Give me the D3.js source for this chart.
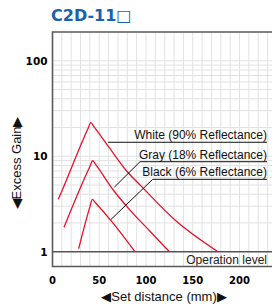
<!DOCTYPE html>
<html>
	<head>
		<meta charset="utf-8">
		<script src="https://cdn.jsdelivr.net/npm/d3@7/dist/d3.min.js"></script>
		<style>
			body { margin: 0; background: #fff; }
			svg text { font-family: 'Liberation Sans', Arial, sans-serif; }
		</style>
	</head>
	<body>
		<div id="chart"></div>
		<script>
			// data (distance in mm, excess gain)
			var whiteDist = [6.2, 10.5, 38, 41, 44.5, 61.5, 80, 95.4, 131, 177];
			var whiteGain = [3.54, 4.43, 19.5, 22.5, 20.3, 12, 6.88, 4.8, 2.15, 1.0];
			var grayDist = [12.3, 40, 43, 46.5, 65, 82.9, 104.3, 125];
			var grayGain = [1.8, 7.8, 8.97, 8.1, 4.43, 2.73, 1.64, 1.0];
			var blackDist = [28, 40, 42.6, 45.5, 65, 88.2];
			var blackGain = [1.075, 2.95, 3.54, 3.3, 1.98, 1.0];

			var xTicks = [0, 50, 100, 150, 200];
			var yTicks = [1, 10, 100];
			var seriesNames = ["White (90% Reflectance)", "Gray (18% Reflectance)", "Black (6% Reflectance)"];
			// label anchor: underline height (gain), underline start (mm), leader end (mm, gain)
			var labelGain = [14, 8.76, 5.73];
			var labelStart = [59.4, 93.6, 107.2];
			var leaderEnd = [null, [66.3, 4.76], [62.6, 2.18]];

			var W = 272, H = 306;
			var mLeft = 52.5, mTop = 32, mBottom = 266.5;

			var svg = d3.select("#chart").append("svg")
				.attr("width", W)
				.attr("height", H);

			var x = d3.scaleLinear().domain([0, 240]).range([mLeft, mLeft + 240 * 0.935]);
			var y = d3.scaleLog().domain([0.7, 200]).range([mBottom, mTop]);

			//grid
			var grid = svg.append("g");
			grid.selectAll(".vg")
				.data(d3.range(10, 240, 10))
				.enter().append("line")
				.attr("x1", function(d) { return x(d); })
				.attr("x2", function(d) { return x(d); })
				.attr("y1", mTop).attr("y2", mBottom)
				.style("stroke", "#e2e2e2").style("stroke-width", 1);

			var hLines = [];
			[1, 10].forEach(function(dec) {
				for (var k = 2; k <= 9; k++) hLines.push(k * dec);
			});
			hLines.push(10, 100);
			grid.selectAll(".hg")
				.data(hLines)
				.enter().append("line")
				.attr("x1", mLeft).attr("x2", W)
				.attr("y1", function(d) { return y(d); })
				.attr("y2", function(d) { return y(d); })
				.style("stroke", "#e2e2e2").style("stroke-width", 1);

			//operation level
			svg.append("line")
				.attr("x1", mLeft).attr("x2", W)
				.attr("y1", y(1)).attr("y2", y(1))
				.style("stroke", "#555").style("stroke-width", 1.4);
			svg.append("text")
				.attr("x", x(229.4)).attr("y", y(1) + 11.8)
				.attr("text-anchor", "end")
				.style("font-size", "12px").style("fill", "#222")
				.text("Operation level");

			//frame
			svg.append("path")
				.attr("d", "M" + (W + 5) + "," + mTop + "H" + mLeft + "V" + mBottom + "H" + (W + 5))
				.style("fill", "none").style("stroke", "#5a5a5a").style("stroke-width", 1.6);

			//curves
			var line = d3.line()
				.x(function(d) { return x(d[0]); })
				.y(function(d) { return y(d[1]); })
				.curve(d3.curveMonotoneX);

			var curves = [
				d3.zip(whiteDist, whiteGain),
				d3.zip(grayDist, grayGain),
				d3.zip(blackDist, blackGain)
			];
			svg.selectAll(".curve")
				.data(curves)
				.enter().append("path")
				.attr("d", line)
				.style("fill", "none")
				.style("stroke", "#e8102a")
				.style("stroke-width", 1.3);

			//labels
			seriesNames.forEach(function(name, i) {
				var yy = y(labelGain[i]);
				svg.append("line")
					.attr("x1", x(labelStart[i])).attr("x2", x(229.4))
					.attr("y1", yy).attr("y2", yy)
					.style("stroke", "#111").style("stroke-width", 1);
				if (leaderEnd[i]) {
					svg.append("line")
						.attr("x1", x(labelStart[i])).attr("y1", yy)
						.attr("x2", x(leaderEnd[i][0])).attr("y2", y(leaderEnd[i][1]))
						.style("stroke", "#111").style("stroke-width", 1);
				}
				svg.append("text")
					.attr("x", x(229.4)).attr("y", yy - 3)
					.attr("text-anchor", "end")
					.style("font-size", "12px").style("fill", "#111")
					.text(name);
			});

			//tick labels
			svg.selectAll(".xt")
				.data(xTicks)
				.enter().append("text")
				.attr("x", function(d) { return x(d); })
				.attr("y", 284)
				.attr("text-anchor", "middle")
				.style("font-family", "'DejaVu Sans', sans-serif")
				.style("font-weight", "bold").style("font-size", "10px")
				.text(function(d) { return d; });

			svg.selectAll(".yt")
				.data(yTicks)
				.enter().append("text")
				.attr("x", 47.5)
				.attr("y", function(d) { return y(d) + 4; })
				.attr("text-anchor", "end")
				.style("font-family", "'DejaVu Sans', sans-serif")
				.style("font-weight", "bold").style("font-size", "10.5px")
				.text(function(d) { return d; });

			//axis titles
			svg.append("text")
				.attr("x", 164).attr("y", 301)
				.attr("text-anchor", "middle")
				.style("font-size", "13px").style("fill", "#111")
				.text("\u25C0Set distance (mm)\u25B6");

			svg.append("text")
				.attr("transform", "translate(21,163) rotate(-90)")
				.attr("text-anchor", "middle")
				.style("font-size", "13px").style("fill", "#111")
				.text("\u25C0Excess Gain\u25B6");

			//title
			svg.append("text")
				.attr("x", 51).attr("y", 21)
				.style("font-family", "'DejaVu Sans', sans-serif")
				.style("font-weight", "bold").style("font-size", "16px")
				.style("fill", "#1762ad")
				.text("C2D-11\u25A1");
		</script>
	</body>
</html>
